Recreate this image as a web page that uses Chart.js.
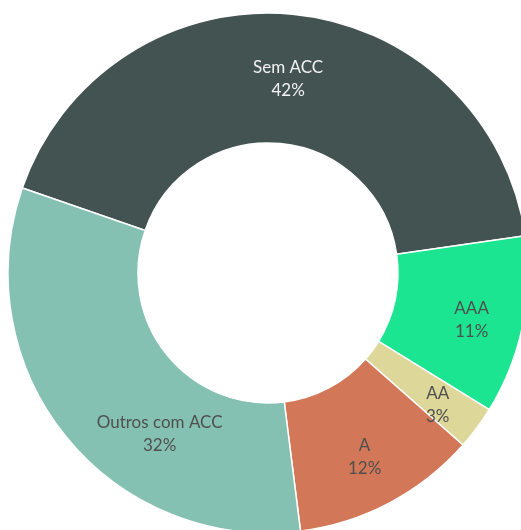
<!DOCTYPE html>
<html>
<head>
<meta charset="utf-8">
<script src="https://cdn.jsdelivr.net/npm/chart.js@4.4.1/dist/chart.umd.min.js"></script>
<style>
  html, body { margin: 0; padding: 0; background: #fff; overflow: hidden; }
  #wrap { position: absolute; left: 0; top: 0; }
</style>
</head>
<body>
<div id="wrap"><canvas id="donut" width="536" height="546"></canvas></div>
<script>
// categories and shares (percent)
var categorias = ["Sem ACC", "AAA", "AA", "A", "Outros com ACC"];
var valores = [42.4, 11.1, 2.7, 11.5, 32.3];
var cores = ["#435351", "#1be590", "#ddd79a", "#d27858", "#85c1b2"];
var corTexto = ["#f2f2f2", "#4f4f4f", "#4f4f4f", "#4f4f4f", "#4f4f4f"];

// where each label sits: angle shift (deg) and distance from centre
var labelShift = [0.5, 1.3, 1.3, 0.2, -17];
var labelDist = [195, 209, 215, 208, 194];

var donutLabels = {
    id: 'donutLabels',
    afterDatasetsDraw: function (chart) {
        var ctx = chart.ctx;
        var meta = chart.getDatasetMeta(0);
        var total = valores.reduce(function (a, b) { return a + b; }, 0);
        ctx.save();
        ctx.font = '17px Lato, "Liberation Sans", sans-serif';
        ctx.textAlign = 'center';
        ctx.textBaseline = 'middle';
        meta.data.forEach(function (arc, i) {
            var mid = (arc.startAngle + arc.endAngle) / 2 + labelShift[i] * Math.PI / 180;
            var x = arc.x + Math.cos(mid) * labelDist[i];
            var y = arc.y + Math.sin(mid) * labelDist[i];
            var pct = Math.round(valores[i] / total * 100) + '%';
            ctx.fillStyle = corTexto[i];
            ctx.fillText(categorias[i], x, y - 11.5);
            ctx.fillText(pct, x, y + 11.5);
        });
        ctx.restore();
    }
};

var ctx = document.getElementById("donut").getContext('2d');
var chart = new Chart(ctx, {
    type: 'doughnut',
    data: {
        labels: categorias,
        datasets: [{
            data: valores,
            backgroundColor: cores,
            borderColor: '#ffffff',
            borderWidth: 1.5
        }]
    },
    options: {
        responsive: false,
        animation: false,
        rotation: -70.9,
        radius: 260,
        cutout: '50%',
        layout: { padding: 0 },
        plugins: {
            legend: { display: false },
            tooltip: { enabled: false }
        }
    },
    plugins: [donutLabels]
});
</script>
</body>
</html>
